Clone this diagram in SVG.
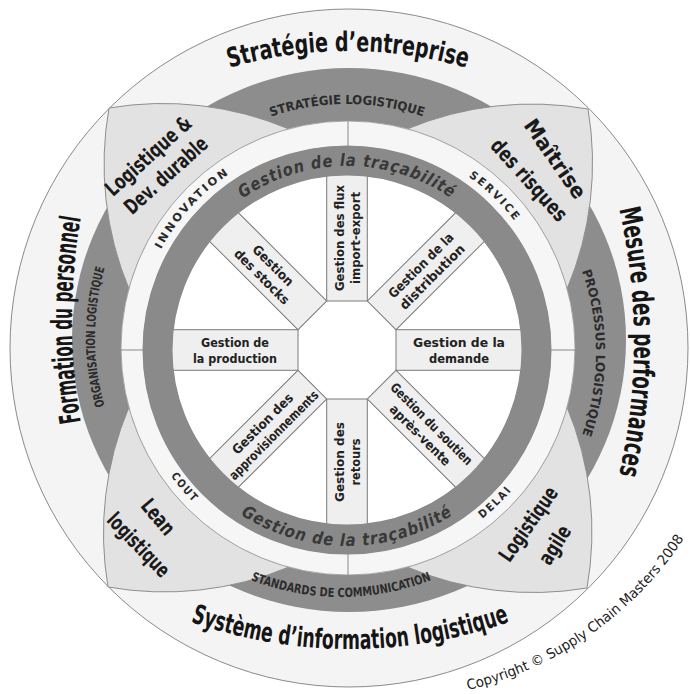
<svg xmlns="http://www.w3.org/2000/svg" width="690" height="694" viewBox="0 0 690 694">
  <style>
    .cond { font-family: 'DejaVu Sans Condensed', 'DejaVu Sans', 'Liberation Sans', sans-serif; font-stretch: condensed; }
    .outer { font-size: 27px; font-weight: bold; fill: #151515; text-anchor: middle; }
    .outer-side { font-size: 29px; }
    .band { font-size: 12.5px; font-weight: bold; fill: #2b2b2b; text-anchor: middle; }
    .trac { font-size: 17px; font-weight: bold; font-style: italic; fill: #383838; text-anchor: middle; }
    .axis { font-size: 11px; font-weight: bold; fill: #2a2a2a; text-anchor: middle; }
    .petal-t { font-size: 21px; font-weight: bold; fill: #1a1a1a; text-anchor: middle; }
    .spoke-t { font-size: 13px; font-weight: bold; fill: #222; text-anchor: middle; }
    .petal { fill: #e2e2e2; stroke: #8e8e8e; stroke-width: 1; }
    .spoke { fill: #efefef; stroke: #7a7a7a; stroke-width: 1; }
    .divider { stroke: #8a8a8a; stroke-width: 1; }
    .copy { font-family: 'DejaVu Sans', 'Liberation Sans', sans-serif; font-size: 14px; fill: #222; }
  </style>
  <defs>
    <!-- baselines for the curved labels -->
    <path id="p-top-outer" d="M 44 177 A 430 430 0 0 1 652 177"/>
    <path id="p-right-outer" d="M 553.6 42 A 600 600 0 0 1 553.6 642"/>
    <path id="p-left-outer" d="M 152.4 620 A 600 600 0 0 1 152.4 20"/>
    <path id="p-bottom-outer" d="M 10.6 508.4 A 480 480 0 0 0 689.4 508.4"/>
    <path id="p-band-top" d="M 111 340 A 236 236 0 0 1 583 340"/>
    <path id="p-band-right" d="M 349 106 A 247 247 0 0 1 349 600"/>
    <path id="p-band-bottom" d="M 94 350 A 247 247 0 0 0 588 350"/>
    <path id="p-band-left" d="M 347 589 A 252 252 0 0 1 347 85"/>
    <path id="p-trac-top" d="M 163 350 A 184 184 0 0 1 531 350"/>
    <path id="p-trac-bottom" d="M 151 350 A 196 196 0 0 0 543 350"/>
    <path id="p-ring-ul" d="M 136 349 A 211 211 0 0 1 347 138"/>
    <path id="p-ring-ur" d="M 347 138 A 211 211 0 0 1 558 349"/>
    <path id="p-ring-ll" d="M 130 349 A 217 217 0 0 0 347 566"/>
    <path id="p-ring-lr" d="M 347 566 A 217 217 0 0 0 564 349"/>
    <path id="p-copy" d="M 468 690 A 360 360 0 0 0 687 534"/>
  </defs>

  <rect width="690" height="694" fill="#ffffff"/>

  <!-- outer band and the grey ring of the four support themes -->
  <g id="outer-ring">
    <circle cx="349" cy="348" r="339" fill="#f4f4f4" stroke="#8a8a8a" stroke-width="1"/>
    <ellipse cx="349" cy="340" rx="277" ry="272" fill="#8d8d8d"/>
  </g>

  <!-- four corner petals -->
  <g id="petal-dev-durable">
    <path class="petal" d="M 109 108 A 324 324 0 0 1 289 129 A 227 227 0 0 0 129 289 A 324 324 0 0 1 109 108 Z"/>
    <text class="cond petal-t" transform="translate(148.5 156) rotate(-42)" y="7" textLength="108" lengthAdjust="spacingAndGlyphs">Logistique &amp;</text>
    <text class="cond petal-t" transform="translate(166 175.5) rotate(-42)" y="7" textLength="104" lengthAdjust="spacingAndGlyphs">Dev. durable</text>
  </g>
  <g id="petal-risques">
    <path class="petal" d="M 588 109 A 324 324 0 0 1 567 289 A 227 227 0 0 0 407 129 A 324 324 0 0 1 588 109 Z"/>
    <text class="cond petal-t" transform="translate(555 159) rotate(55)" y="7" textLength="92" lengthAdjust="spacingAndGlyphs">Maîtrise</text>
    <text class="cond petal-t" transform="translate(529 180) rotate(48)" y="7" textLength="103" lengthAdjust="spacingAndGlyphs">des risques</text>
  </g>
  <g id="petal-agile">
    <path class="petal" d="M 587 588 A 324 324 0 0 1 407 567 A 227 227 0 0 0 567 407 A 324 324 0 0 1 587 588 Z"/>
    <text class="cond petal-t" transform="translate(528.5 524) rotate(-55)" y="7" textLength="86" lengthAdjust="spacingAndGlyphs">Logistique</text>
    <text class="cond petal-t" transform="translate(555 545) rotate(-58)" y="7" textLength="42" lengthAdjust="spacingAndGlyphs">agile</text>
  </g>
  <g id="petal-lean">
    <path class="petal" d="M 108 587 A 324 324 0 0 1 129 407 A 227 227 0 0 0 289 567 A 324 324 0 0 1 108 587 Z"/>
    <text class="cond petal-t" transform="translate(158 517) rotate(50)" y="7" textLength="40" lengthAdjust="spacingAndGlyphs">Lean</text>
    <text class="cond petal-t" transform="translate(138.5 545) rotate(46)" y="7" textLength="80" lengthAdjust="spacingAndGlyphs">logistique</text>
  </g>

  <!-- outer labels -->
  <g id="label-strategie-entreprise">
    <text class="cond outer"><textPath href="#p-top-outer" startOffset="50%" textLength="240" lengthAdjust="spacingAndGlyphs">Stratégie d’entreprise</textPath></text>
  </g>
  <g id="label-mesure">
    <text class="cond outer outer-side"><textPath href="#p-right-outer" startOffset="50%" textLength="268" lengthAdjust="spacingAndGlyphs">Mesure des performances</textPath></text>
  </g>
  <g id="label-formation">
    <text class="cond outer outer-side"><textPath href="#p-left-outer" startOffset="50%" textLength="205" lengthAdjust="spacingAndGlyphs">Formation du personnel</textPath></text>
  </g>
  <g id="label-systeme">
    <text class="cond outer"><textPath href="#p-bottom-outer" startOffset="50%" textLength="325" lengthAdjust="spacingAndGlyphs">Système d’information logistique</textPath></text>
  </g>

  <!-- grey band labels -->
  <g id="band-strategie">
    <text class="cond band"><textPath href="#p-band-top" startOffset="50%" textLength="155" lengthAdjust="spacingAndGlyphs">STRATÉGIE LOGISTIQUE</textPath></text>
  </g>
  <g id="band-processus">
    <text class="cond band"><textPath href="#p-band-right" startOffset="50%" textLength="167" lengthAdjust="spacingAndGlyphs">PROCESSUS LOGISTIQUE</textPath></text>
  </g>
  <g id="band-standards">
    <text class="cond band"><textPath href="#p-band-bottom" startOffset="50%" textLength="185" lengthAdjust="spacingAndGlyphs">STANDARDS DE COMMUNICATION</textPath></text>
  </g>
  <g id="band-organisation">
    <text class="cond band"><textPath href="#p-band-left" startOffset="50%" textLength="140" lengthAdjust="spacingAndGlyphs">ORGANISATION LOGISTIQUE</textPath></text>
  </g>

  <!-- light ring with the four performance axes -->
  <g id="axes-ring">
    <circle cx="348" cy="348" r="227" fill="#f6f6f6" stroke="#9a9a9a" stroke-width="0.8"/>
    <line class="divider" x1="348" y1="121" x2="348" y2="147"/>
    <line class="divider" x1="348" y1="553" x2="348" y2="575"/>
    <line class="divider" x1="121" y1="350" x2="144" y2="350"/>
    <line class="divider" x1="550" y1="350" x2="575" y2="350"/>
    <text class="cond axis" letter-spacing="2"><textPath href="#p-ring-ul" startOffset="47%" textLength="104" lengthAdjust="spacingAndGlyphs">INNOVATION</textPath></text>
    <text class="cond axis" letter-spacing="2"><textPath href="#p-ring-ur" startOffset="49%" textLength="66" lengthAdjust="spacingAndGlyphs">SERVICE</textPath></text>
    <text class="cond axis" letter-spacing="2"><textPath href="#p-ring-ll" startOffset="45%" textLength="36" lengthAdjust="spacingAndGlyphs">COUT</textPath></text>
    <text class="cond axis" letter-spacing="2"><textPath href="#p-ring-lr" startOffset="49%" textLength="42" lengthAdjust="spacingAndGlyphs">DELAI</textPath></text>
  </g>

  <!-- inner disc -->
  <g id="core">
    <circle cx="347" cy="350" r="204" fill="#8a8a8a"/>
    <circle cx="347" cy="350" r="175" fill="#ffffff"/>
  </g>

  <!-- eight management spokes -->
  <g id="spoke-flux" transform="translate(347 350)">
    <rect class="spoke" x="-20.3" y="-176" width="40.6" height="127"/>
    <g transform="translate(0 -112) rotate(-90)">
      <text class="cond spoke-t" y="-3" textLength="106" lengthAdjust="spacingAndGlyphs">Gestion des flux</text>
      <text class="cond spoke-t" y="13" textLength="92" lengthAdjust="spacingAndGlyphs">import-export</text>
    </g>
  </g>
  <g id="spoke-distribution" transform="translate(347 350)">
    <rect class="spoke" x="-20.3" y="-176" width="40.6" height="127" transform="rotate(45)"/>
    <g transform="translate(79.2 -79.2) rotate(-45)">
      <text class="cond spoke-t" y="-3" textLength="86" lengthAdjust="spacingAndGlyphs">Gestion de la</text>
      <text class="cond spoke-t" y="13" textLength="86" lengthAdjust="spacingAndGlyphs">distribution</text>
    </g>
  </g>
  <g id="spoke-demande" transform="translate(347 350)">
    <rect class="spoke" x="-20.3" y="-176" width="40.6" height="127" transform="rotate(90)"/>
    <g transform="translate(112 0)">
      <text class="cond spoke-t" y="-3" textLength="92" lengthAdjust="spacingAndGlyphs">Gestion de la</text>
      <text class="cond spoke-t" y="13" textLength="60" lengthAdjust="spacingAndGlyphs">demande</text>
    </g>
  </g>
  <g id="spoke-soutien" transform="translate(347 350)">
    <rect class="spoke" x="-20.3" y="-176" width="40.6" height="127" transform="rotate(135)"/>
    <g transform="translate(79.2 79.2) rotate(45)">
      <text class="cond spoke-t" y="-3" textLength="110" lengthAdjust="spacingAndGlyphs">Gestion du soutien</text>
      <text class="cond spoke-t" y="13" textLength="80" lengthAdjust="spacingAndGlyphs">après-vente</text>
    </g>
  </g>
  <g id="spoke-retours" transform="translate(347 350)">
    <rect class="spoke" x="-20.3" y="-176" width="40.6" height="127" transform="rotate(180)"/>
    <g transform="translate(0 112) rotate(-90)">
      <text class="cond spoke-t" y="-3" textLength="80" lengthAdjust="spacingAndGlyphs">Gestion des</text>
      <text class="cond spoke-t" y="13" textLength="47" lengthAdjust="spacingAndGlyphs">retours</text>
    </g>
  </g>
  <g id="spoke-approvisionnements" transform="translate(347 350)">
    <rect class="spoke" x="-20.3" y="-176" width="40.6" height="127" transform="rotate(225)"/>
    <g transform="translate(-79.2 79.2) rotate(-45)">
      <text class="cond spoke-t" y="-3" textLength="80" lengthAdjust="spacingAndGlyphs">Gestion des</text>
      <text class="cond spoke-t" y="13" textLength="120" lengthAdjust="spacingAndGlyphs">approvisionnements</text>
    </g>
  </g>
  <g id="spoke-production" transform="translate(347 350)">
    <rect class="spoke" x="-20.3" y="-176" width="40.6" height="127" transform="rotate(270)"/>
    <g transform="translate(-112 0)">
      <text class="cond spoke-t" y="-3" textLength="68" lengthAdjust="spacingAndGlyphs">Gestion de</text>
      <text class="cond spoke-t" y="13" textLength="84" lengthAdjust="spacingAndGlyphs">la production</text>
    </g>
  </g>
  <g id="spoke-stocks" transform="translate(347 350)">
    <rect class="spoke" x="-20.3" y="-176" width="40.6" height="127" transform="rotate(315)"/>
    <g transform="translate(-79.2 -79.2) rotate(45)">
      <text class="cond spoke-t" y="-3" textLength="52" lengthAdjust="spacingAndGlyphs">Gestion</text>
      <text class="cond spoke-t" y="13" textLength="72" lengthAdjust="spacingAndGlyphs">des stocks</text>
    </g>
  </g>

  <!-- traceability ring drawn over the spoke ends -->
  <g id="tracabilite">
    <circle cx="347" cy="350" r="189.5" fill="none" stroke="#8a8a8a" stroke-width="30"/>
    <text class="cond trac" letter-spacing="1"><textPath href="#p-trac-top" startOffset="50%" textLength="222" lengthAdjust="spacingAndGlyphs">Gestion de la traçabilité</textPath></text>
    <text class="cond trac" letter-spacing="1"><textPath href="#p-trac-bottom" startOffset="50%" textLength="225" lengthAdjust="spacingAndGlyphs">Gestion de la traçabilité</textPath></text>
  </g>

  <g id="copyright">
    <text class="copy"><textPath href="#p-copy" startOffset="0" textLength="270" lengthAdjust="spacingAndGlyphs">Copyright © Supply Chain Masters 2008</textPath></text>
  </g>
</svg>
